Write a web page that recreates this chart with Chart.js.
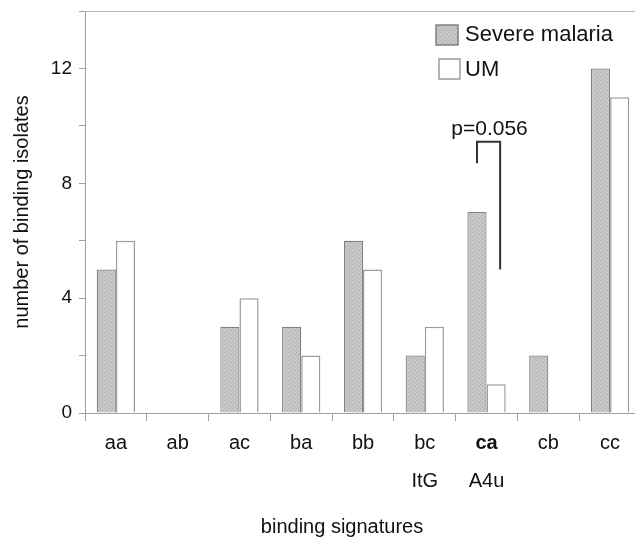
<!DOCTYPE html>
<html>
<head>
<meta charset="utf-8">
<title>Binding signatures</title>
<script src="https://cdn.jsdelivr.net/npm/chart.js@4.4.1/dist/chart.umd.min.js"></script>
<style>
    html, body { margin: 0; padding: 0; background: #ffffff; overflow: hidden; }
    #wrap { width: 642px; height: 539px; }
</style>
</head>
<body>
<div id="wrap"><canvas id="bindingChart"></canvas></div>
<script>
const categories = ['aa', 'ab', 'ac', 'ba', 'bb', 'bc', 'ca', 'cb', 'cc'];
const subLabels = ['', '', '', '', '', 'ItG', 'A4u', '', ''];
const boldCategory = 'ca';
const severeValues = [5, 0, 3, 3, 6, 2, 7, 2, 12];
const umValues = [6, 0, 4, 2, 5, 3, 1, 0, 11];
const yLabelled = [0, 4, 8, 12];
// bracket over "ca": left end, top, right end (in y units)
const bracketCategory = 'ca';
const bracketLevels = [8.7, 9.45, 5.0];
const bracketText = 'p=0.056';

const FONT = '"Liberation Sans", Arial, sans-serif';
let bindingChartInstance = null;

document.addEventListener("DOMContentLoaded", function () {
    renderBindingChart();
});

function makeStipple() {
    const c = document.createElement('canvas');
    c.width = 4; c.height = 4;
    const g = c.getContext('2d');
    g.fillStyle = '#c3c3c3'; g.fillRect(0, 0, 4, 4);
    g.fillStyle = '#adadad'; g.fillRect(0, 0, 1, 1); g.fillRect(2, 2, 1, 1);
    g.fillStyle = '#d3d3d3'; g.fillRect(2, 0, 1, 1); g.fillRect(0, 2, 1, 1);
    return g.createPattern(c, 'repeat');
}

const extrasPlugin = {
    id: 'extras',
    afterDraw(chart) {
        const ctx = chart.ctx;
        const area = chart.chartArea;
        const xs = chart.scales.x, ys = chart.scales.y;
        ctx.save();

        // top frame line
        ctx.strokeStyle = '#b4b4b4';
        ctx.lineWidth = 1;
        ctx.beginPath();
        ctx.moveTo(area.left, area.top + 0.5);
        ctx.lineTo(chart.width, area.top + 0.5);
        ctx.stroke();

        // second row of category labels
        ctx.fillStyle = '#111';
        ctx.font = '20px ' + FONT;
        ctx.textAlign = 'center';
        ctx.textBaseline = 'alphabetic';
        subLabels.forEach((s, i) => {
            if (s) ctx.fillText(s, xs.getPixelForValue(i), area.bottom + 74);
        });

        // x axis title
        ctx.fillText('binding signatures', 342, area.bottom + 120);

        // significance bracket
        const idx = categories.indexOf(bracketCategory);
        const xl = chart.getDatasetMeta(0).data[idx].x;
        const xr = chart.getDatasetMeta(1).data[idx].x + 4;
        const yTop = ys.getPixelForValue(bracketLevels[1]);
        ctx.strokeStyle = '#333';
        ctx.lineWidth = 2;
        ctx.beginPath();
        ctx.moveTo(xl, ys.getPixelForValue(bracketLevels[0]));
        ctx.lineTo(xl, yTop);
        ctx.lineTo(xr, yTop);
        ctx.lineTo(xr, ys.getPixelForValue(bracketLevels[2]));
        ctx.stroke();
        ctx.font = '21px ' + FONT;
        ctx.fillText(bracketText, (xl + xr) / 2 + 1, yTop - 7);

        // legend
        const rows = [[436, 25, 22, 20, 35], [439, 59, 21, 20, 70]];
        chart.data.datasets.forEach((ds, i) => {
            const r = rows[i];
            ctx.fillStyle = ds.backgroundColor;
            ctx.fillRect(r[0], r[1], r[2], r[3]);
            ctx.strokeStyle = ds.borderColor;
            ctx.lineWidth = 1.5;
            ctx.strokeRect(r[0], r[1], r[2], r[3]);
            ctx.fillStyle = '#111';
            ctx.font = '22px ' + FONT;
            ctx.textAlign = 'left';
            ctx.textBaseline = 'middle';
            ctx.fillText(ds.label, 465, r[4]);
        });
        ctx.restore();
    }
};

function renderBindingChart() {
    if (bindingChartInstance) bindingChartInstance.destroy();
    const ctx = document.getElementById('bindingChart').getContext('2d');
    bindingChartInstance = new Chart(ctx, {
        type: 'bar',
        data: {
            labels: categories,
            datasets: [{
                label: 'Severe malaria',
                data: severeValues,
                backgroundColor: makeStipple(),
                borderColor: '#808080',
                borderWidth: 1.2
            }, {
                label: 'UM',
                data: umValues,
                backgroundColor: '#ffffff',
                borderColor: '#9c9c9c',
                borderWidth: 1.5
            }]
        },
        options: {
            responsive: true, maintainAspectRatio: false, animation: false,
            layout: { padding: { top: 11, right: 1, left: 0, bottom: 0 } },
            datasets: { bar: { categoryPercentage: 0.62, barPercentage: 1 } },
            plugins: { legend: { display: false }, tooltip: { enabled: false } },
            scales: {
                x: {
                    afterFit: (s) => { s.height = 126; },
                    grid: { drawOnChartArea: false, tickLength: 8, color: '#a0a0a0' },
                    border: { color: '#a0a0a0' },
                    ticks: {
                        color: '#111', padding: 10, maxRotation: 0,
                        font: (c) => ({ family: FONT, size: 20,
                            weight: categories[c.index] === boldCategory ? 'bold' : 'normal' })
                    }
                },
                y: {
                    min: 0, max: 14,
                    afterFit: (s) => { s.width = 85; s.paddingTop = 0; },
                    grid: { drawOnChartArea: false, tickLength: 6, color: '#a0a0a0' },
                    border: { color: '#a0a0a0' },
                    ticks: {
                        stepSize: 2, color: '#111', padding: 7,
                        font: { family: FONT, size: 19 },
                        callback: (v) => yLabelled.includes(v) ? String(v) : ''
                    },
                    title: {
                        display: true, text: 'number of binding isolates', color: '#111',
                        font: { family: FONT, size: 20 }, padding: { top: 10, bottom: 0 }
                    }
                }
            }
        },
        plugins: [extrasPlugin]
    });
}
</script>
</body>
</html>
